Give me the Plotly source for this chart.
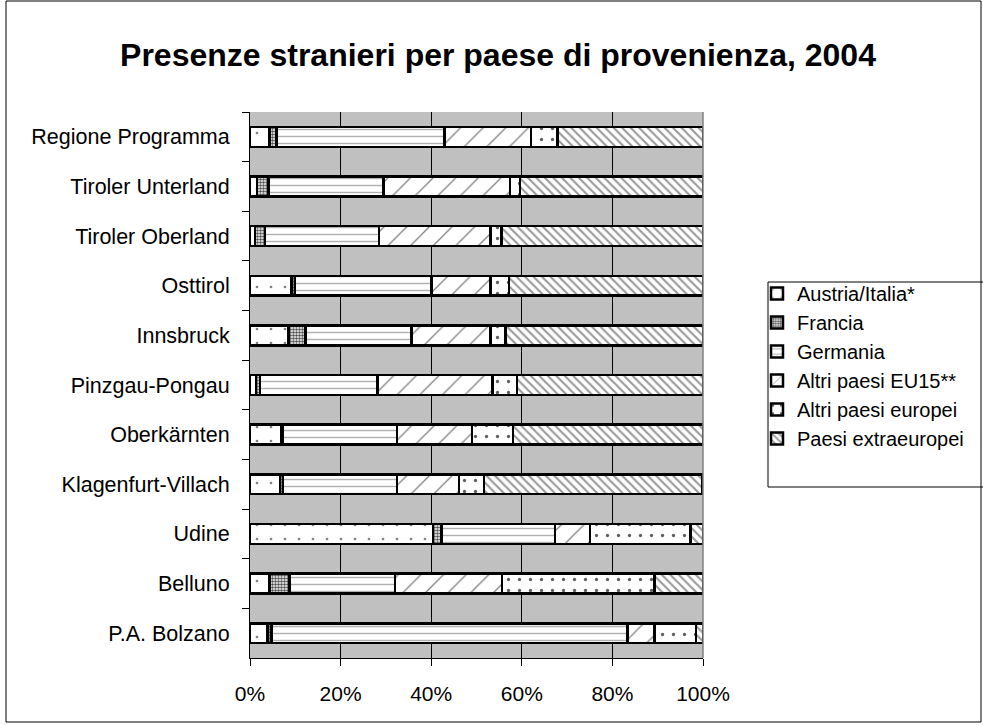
import plotly.graph_objects as go

# Regions, listed top to bottom as they appear on the chart
regions = [
    "Regione Programma", "Tiroler Unterland", "Tiroler Oberland", "Osttirol",
    "Innsbruck", "Pinzgau-Pongau", "Oberkärnten", "Klagenfurt-Villach",
    "Udine", "Belluno", "P.A. Bolzano",
]

# Share of foreign arrivals by country of origin (%)
austria_italia = [4.3, 1.5, 1.1, 9.2, 8.5, 1.3, 6.8, 6.6, 40.4, 4.3, 3.9]
francia = [1.5, 2.6, 2.2, 0.7, 3.7, 0.9, 0.4, 0.7, 1.9, 4.4, 0.9]
germania = [37.1, 25.4, 25.2, 30.2, 23.4, 25.9, 25.3, 25.1, 25.0, 23.3, 78.5]
altri_eu15 = [19.1, 27.9, 24.6, 13.0, 17.5, 25.4, 16.5, 13.7, 7.7, 23.6, 6.0]
altri_europei = [5.9, 2.2, 2.4, 4.1, 3.3, 5.4, 9.1, 5.6, 22.2, 33.7, 9.2]
extraeuropei = [32.2, 40.5, 44.5, 42.8, 43.6, 41.1, 41.9, 48.2, 2.8, 10.7, 1.5]

x_ticks = [0, 20, 40, 60, 80, 100]
x_tick_labels = ["0%", "20%", "40%", "60%", "80%", "100%"]

series = [
    ("Austria/Italia*", austria_italia, dict(shape=".", size=14, solidity=0.03, fgcolor="#808080")),
    ("Francia", francia, dict(shape=".", size=3, solidity=0.55, fgcolor="#505050")),
    ("Germania", germania, dict(shape="-", size=7, solidity=0.2, fgcolor="#B0B0B0")),
    ("Altri paesi EU15**", altri_eu15, dict(shape="/", size=16, solidity=0.08, fgcolor="#808080")),
    ("Altri paesi europei", altri_europei, dict(shape=".", size=11, solidity=0.07, fgcolor="#606060")),
    ("Paesi extraeuropei", extraeuropei, dict(shape="\\", size=6, solidity=0.35, fgcolor="#989898")),
]

FONT = "Liberation Sans, Arial, sans-serif"

fig = go.Figure()
for name, values, pat in series:
    fig.add_trace(go.Bar(
        y=regions, x=values, name=name, orientation="h",
        marker=dict(
            color="white",
            line=dict(color="black", width=2.5),
            pattern=dict(bgcolor="white", fillmode="replace", **pat),
        ),
        hovertemplate="%{y}: %{x:.1f}%<extra>" + name + "</extra>",
    ))

W, H = 983, 725
L, R, T, B = 250, 280, 112, 67
pw, ph = W - L - R, H - T - B


def px_x(v):
    return (v - L) / pw


def px_y(v):
    return (H - B - v) / ph


fig.update_layout(
    width=W, height=H,
    margin=dict(l=L, r=R, t=T, b=B),
    paper_bgcolor="white",
    plot_bgcolor="#C0C0C0",
    barmode="stack",
    bargap=0.6,
    font=dict(family=FONT, color="black"),
    title=dict(
        text="<b>Presenze stranieri per paese di provenienza, 2004</b>",
        x=498 / W, xanchor="center", y=1 - 55 / H, yanchor="middle",
        font=dict(size=32, family=FONT, color="black"),
    ),
    legend=dict(
        x=px_x(757), xanchor="left", y=px_y(274), yanchor="top",
        font=dict(size=20, family=FONT),
        bgcolor="rgba(0,0,0,0)", borderwidth=0,
        traceorder="normal",
    ),
    showlegend=True,
)

fig.update_xaxes(
    range=[0, 100], tickvals=x_ticks, ticktext=x_tick_labels,
    showgrid=True, gridcolor="black", gridwidth=1,
    showline=True, linecolor="black", linewidth=1,
    ticks="outside", ticklen=7, tickcolor="black",
    tickfont=dict(size=21, family=FONT),
    ticklabelstandoff=10,
    zeroline=False, fixedrange=True,
)
fig.update_yaxes(
    autorange="reversed",
    showgrid=False,
    showline=True, linecolor="black", linewidth=1,
    ticks="outside", ticklen=7, tickcolor="black", tickson="boundaries",
    tickfont=dict(size=21.5, family=FONT),
    ticklabelstandoff=15,
    fixedrange=True,
)

# Right edge of the plot area, outer chart frame and legend frame
fig.add_shape(type="line", xref="paper", yref="paper", x0=1, x1=1, y0=0, y1=1,
              line=dict(color="#808080", width=1.5), layer="above")
fig.add_shape(type="rect", xref="paper", yref="paper",
              x0=px_x(6), x1=px_x(981), y0=px_y(722), y1=px_y(1),
              line=dict(color="black", width=1), layer="below")
fig.add_shape(type="rect", xref="paper", yref="paper",
              x0=px_x(768), x1=px_x(990), y0=px_y(487), y1=px_y(282),
              line=dict(color="black", width=1), layer="below")

fig.write_html("out.html")
